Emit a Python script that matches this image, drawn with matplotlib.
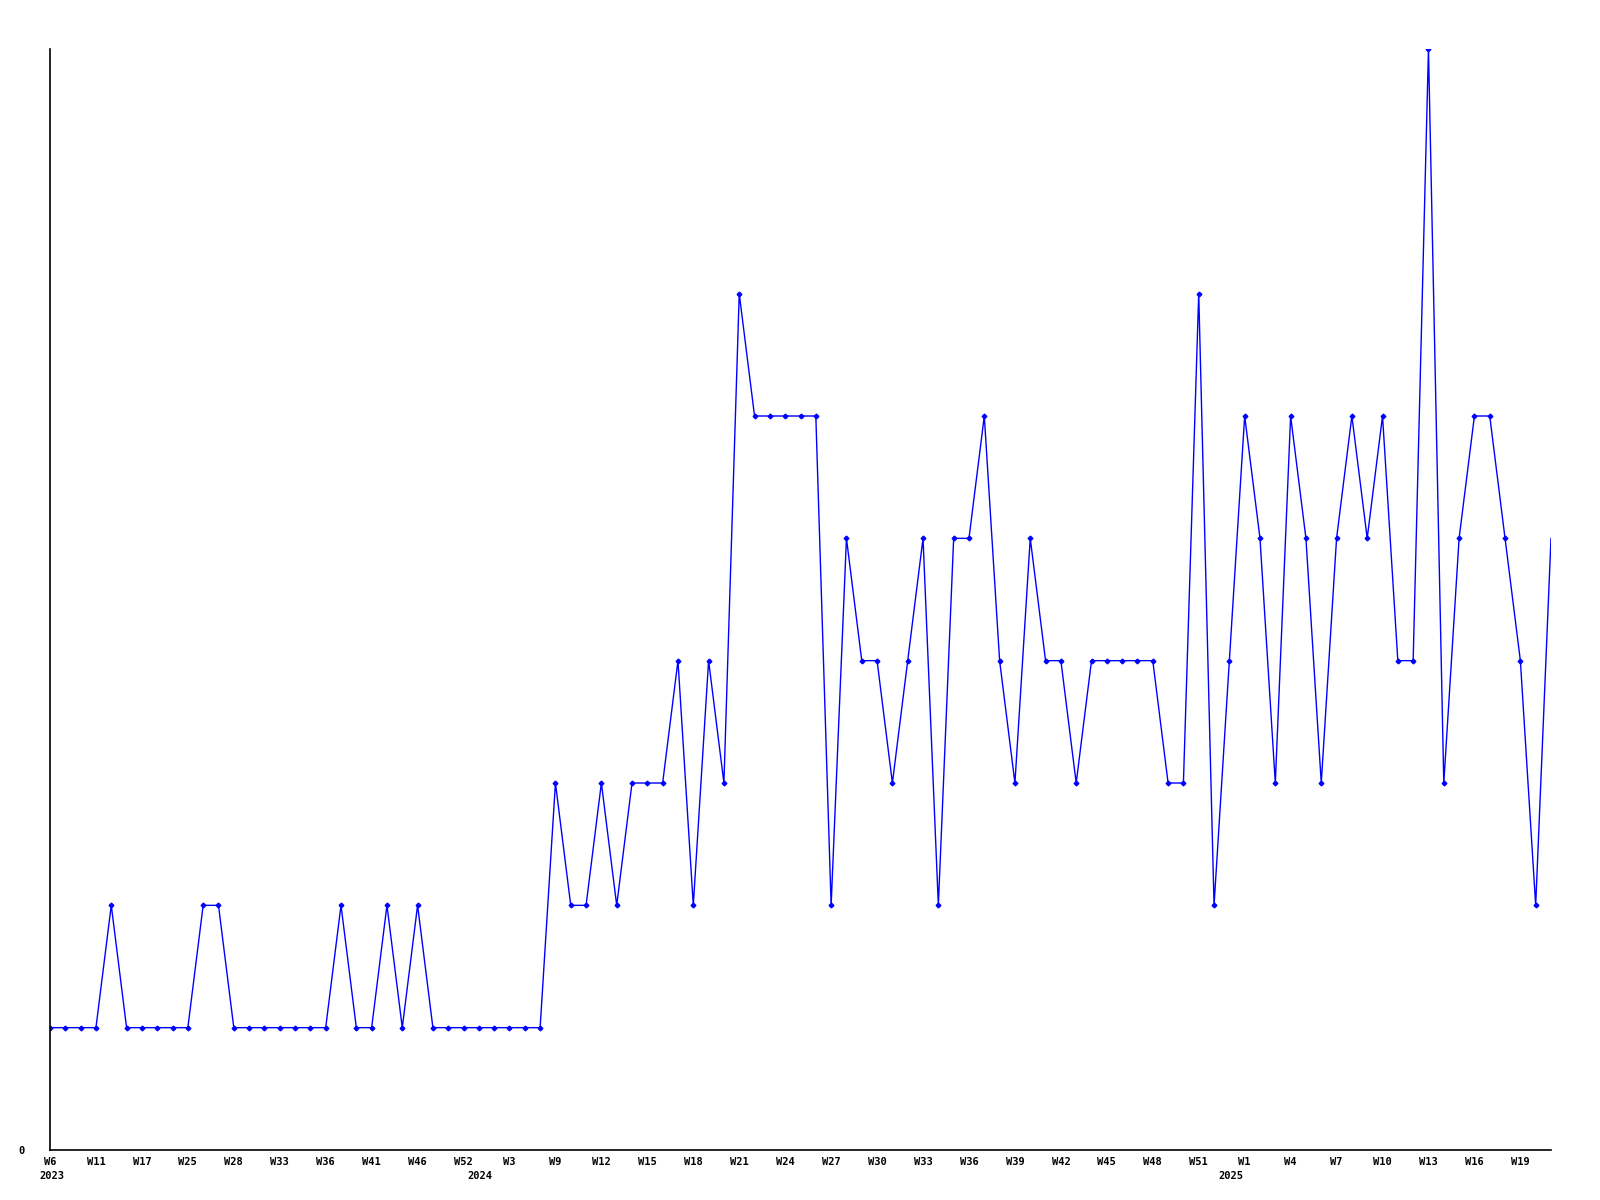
import matplotlib
matplotlib.use("Agg")
import matplotlib.pyplot as plt
import numpy as np

# weekly counts, one per point (2023 W6 .. 2025 W21)
counts = [1, 1, 1, 1, 2, 1, 1, 1, 1, 1,
          2, 2, 1, 1, 1, 1, 1, 1, 1, 2,
          1, 1, 2, 1, 2, 1, 1, 1, 1, 1,
          1, 1, 1, 3, 2, 2, 3, 2, 3, 3,
          3, 4, 2, 4, 3, 7, 6, 6, 6, 6,
          6, 2, 5, 4, 4, 3, 4, 5, 2, 5,
          5, 6, 4, 3, 5, 4, 4, 3, 4, 4,
          4, 4, 4, 3, 3, 7, 2, 4, 6, 5,
          3, 6, 5, 3, 5, 6, 5, 6, 4, 4,
          9, 3, 5, 6, 6, 5, 4, 2, 5]

# labels shown on every third point
week_labels = ["W6", "W11", "W17", "W25", "W28", "W33", "W36", "W41", "W46",
               "W52", "W3", "W9", "W12", "W15", "W18", "W21", "W24", "W27",
               "W30", "W33", "W36", "W39", "W42", "W45", "W48", "W51", "W1",
               "W4", "W7", "W10", "W13", "W16", "W19"]

# year markers: (point index, label)
years = [(0, "2023"), (28, "2024"), (77, "2025")]

x = np.arange(len(counts))
font = dict(family="DejaVu Sans Mono", weight="bold", size=7.5)

fig = plt.figure(figsize=(16, 12), dpi=100)
ax = fig.add_axes([50 / 1600, 1 - 1150 / 1200, 1501 / 1600, 1101 / 1200])

ax.plot(x, counts, color="#0000ff", linewidth=1.0, marker="D", markersize=2.4,
        markevery=list(range(len(counts) - 1)))

ax.set_xlim(0, len(counts) - 1)
ax.set_ylim(0, 9)

for s in ["top", "right"]:
    ax.spines[s].set_visible(False)
for s in ["left", "bottom"]:
    ax.spines[s].set_color("black")
    ax.spines[s].set_linewidth(1.2)

ax.set_xticks(x[::3][:len(week_labels)])
ax.set_xticklabels(week_labels, fontdict=font)
ax.set_yticks([0])
ax.set_yticklabels(["0"], fontdict=font)
ax.tick_params(axis="x", length=0, pad=5)
ax.tick_params(axis="y", length=0, pad=18)

for idx, yr in years:
    ax.annotate(yr, xy=(idx, 0), xycoords=("data", "axes fraction"),
                xytext=(1, -19), textcoords="offset points",
                ha="center", va="center", **font)

fig.savefig("out.png", dpi=100, facecolor="white")
